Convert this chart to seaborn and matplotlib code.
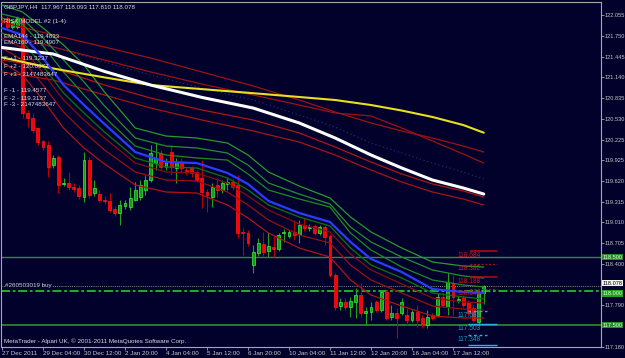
import numpy as np
import pandas as pd
import matplotlib
matplotlib.use("Agg")
import matplotlib.pyplot as plt
import matplotlib.transforms as mtransforms
import seaborn as sns

# ---------------- data ----------------
x_tick_bars = [0, 8, 16, 24, 32, 40, 48, 56, 64, 72, 80, 88]
x_tick_labels = ["27 Dec 2011", "29 Dec 04:00", "30 Dec 12:00", "2 Jan 20:00", "4 Jan 04:00",
                 "5 Jan 12:00", "6 Jan 20:00", "10 Jan 04:00", "11 Jan 12:00", "12 Jan 20:00",
                 "16 Jan 04:00", "17 Jan 12:00"]
y_tick_values = [122.055, 121.750, 121.445, 121.140, 120.835, 120.530, 120.225, 119.925,
                 119.620, 119.315, 119.010, 118.705, 118.400, 117.790, 117.180]

opens = [121.985, 122.015, 121.882, 121.882, 122.015, 120.618, 120.544, 120.397, 120.206, 120.147,
         119.853, 119.971, 119.574, 119.588, 119.529, 119.515, 119.382, 119.926, 119.441, 119.426,
         119.338, 119.324, 119.206, 119.147, 119.250, 119.235, 119.338, 119.382, 119.485, 119.632,
         119.882, 120.029, 119.824, 120.044, 119.809, 119.897, 119.779, 119.809, 119.750, 119.662,
         119.456, 119.382, 119.559, 119.485, 119.574, 119.603, 119.559, 118.868, 118.853, 118.382,
         118.559, 118.691, 118.588, 118.647, 118.618, 118.853, 118.809, 118.868, 118.838, 118.971,
         118.926, 118.956, 118.853, 118.941, 118.809, 118.235, 117.779, 117.838, 117.765, 117.838,
         117.941, 117.676, 117.691, 117.838, 117.721, 117.985, 117.618, 117.676, 117.676, 117.647,
         117.574, 117.691, 117.603, 117.500, 117.647, 117.647, 117.912, 117.765, 118.118, 117.868,
         117.897, 117.824, 117.750, 117.544, 117.967]
highs = [122.044, 122.044, 121.985, 122.044, 122.044, 120.662, 120.618, 120.412, 120.221, 120.206,
         120.000, 120.000, 119.662, 119.750, 119.588, 119.559, 120.044, 119.971, 119.632, 119.485,
         119.397, 119.441, 119.250, 119.338, 119.338, 119.529, 119.603, 119.632, 119.706, 120.147,
         120.191, 120.074, 119.956, 120.147, 119.956, 119.956, 119.824, 119.838, 119.779, 119.926,
         119.500, 119.588, 119.662, 119.632, 119.662, 119.647, 119.706, 118.926, 118.897, 118.676,
         118.779, 118.868, 118.868, 118.824, 118.853, 118.912, 118.897, 119.044, 119.044, 119.074,
         118.985, 118.985, 118.971, 118.971, 118.838, 118.265, 117.897, 117.897, 117.912, 118.044,
         118.118, 117.765, 117.838, 117.868, 118.015, 118.015, 117.794, 117.750, 117.897, 117.750,
         117.721, 117.794, 117.647, 117.721, 117.676, 117.971, 117.971, 118.265, 118.235, 117.926,
         117.941, 117.868, 117.794, 118.015, 118.093]
lows = [121.926, 121.853, 121.853, 121.853, 120.544, 120.412, 120.324, 120.147, 120.074, 119.676,
        119.809, 119.441, 119.544, 119.485, 119.456, 119.353, 119.309, 119.368, 119.397, 119.309,
        119.279, 119.162, 119.103, 118.971, 119.206, 119.191, 119.324, 119.338, 119.412, 119.603,
        119.779, 119.779, 119.779, 119.706, 119.588, 119.750, 119.706, 119.676, 119.603, 119.221,
        119.162, 119.235, 119.382, 119.441, 119.485, 119.485, 118.779, 118.529, 118.662, 118.265,
        118.515, 118.515, 118.500, 118.500, 118.588, 118.721, 118.779, 118.750, 118.706, 118.882,
        118.882, 118.824, 118.824, 118.676, 118.206, 117.721, 117.721, 117.721, 117.618, 117.603,
        117.618, 117.500, 117.574, 117.691, 117.691, 117.574, 117.574, 117.309, 117.647, 117.500,
        117.544, 117.471, 117.456, 117.456, 117.574, 117.618, 117.765, 117.647, 117.647, 117.824,
        117.765, 117.647, 117.544, 117.500, 117.810]
closes = [121.956, 121.882, 121.956, 122.015, 120.618, 120.544, 120.368, 120.191, 120.118, 119.824,
          119.956, 119.559, 119.588, 119.529, 119.500, 119.397, 119.926, 119.412, 119.515, 119.338,
          119.324, 119.191, 119.147, 119.265, 119.294, 119.368, 119.485, 119.559, 119.632, 120.029,
          119.956, 119.824, 119.897, 119.824, 119.897, 119.809, 119.750, 119.735, 119.632, 119.456,
          119.412, 119.529, 119.485, 119.588, 119.603, 119.529, 118.853, 118.853, 118.706, 118.574,
          118.706, 118.574, 118.662, 118.618, 118.824, 118.868, 118.868, 118.824, 118.971, 118.926,
          118.941, 118.853, 118.941, 118.794, 118.235, 117.765, 117.838, 117.765, 117.853, 117.941,
          117.676, 117.706, 117.765, 117.721, 117.985, 117.603, 117.676, 117.603, 117.838, 117.574,
          117.691, 117.574, 117.515, 117.618, 117.603, 117.912, 117.794, 118.132, 117.912, 117.882,
          117.794, 117.676, 117.574, 117.971, 118.078]

# slow moving averages & envelopes (sampled at these bars)
slow_bars = [0, 10, 20, 29, 39, 49, 58, 65, 72, 78, 84, 90, 94]
ema_white = [121.581, 121.485, 121.229, 121.029, 120.847, 120.691, 120.471, 120.250, 120.000, 119.809, 119.632, 119.515, 119.426]
ema_yellow = [121.435, 121.272, 121.141, 121.029, 120.969, 120.909, 120.853, 120.809, 120.735, 120.654, 120.559, 120.441, 120.328]
env_up1 = [121.956, 121.765, 121.588, 121.426, 121.221, 121.015, 120.809, 120.632, 120.471, 120.353, 120.250, 120.132, 120.044]
env_up2 = [121.794, 121.588, 121.397, 121.221, 121.044, 120.882, 120.735, 120.618, 120.574, 120.397, 120.206, 120.015, 119.882]
env_dn1 = [121.397, 121.279, 121.029, 120.838, 120.662, 120.515, 120.324, 120.118, 119.897, 119.721, 119.574, 119.471, 119.382]
env_dn2 = [121.221, 121.103, 120.882, 120.691, 120.515, 120.353, 120.191, 120.000, 119.779, 119.603, 119.456, 119.353, 119.265]
env_mid = [121.691, 121.588, 121.368, 121.176, 120.985, 120.809, 120.588, 120.412, 120.176, 120.029, 119.882, 119.750, 119.647]

# fast moving average & bands
fast_bars = [0, 4, 8, 12, 16, 20, 26, 32, 38, 44, 48, 52, 58, 64, 68, 72, 78, 84, 90, 94]
ema_blue = [121.868, 121.765, 121.426, 121.029, 120.735, 120.456, 120.044, 119.897, 119.882, 119.735,
            119.574, 119.324, 119.147, 119.015, 118.721, 118.471, 118.279, 118.029, 117.985, 117.971]
band_g1 = [122.206, 122.103, 121.868, 121.618, 121.324, 120.926, 120.397, 120.279, 120.250, 120.176,
           120.000, 119.750, 119.544, 119.368, 119.088, 118.868, 118.632, 118.426, 118.368, 118.353]
band_g2 = [122.074, 122.000, 121.721, 121.397, 121.074, 120.721, 120.250, 120.132, 120.103, 120.029,
           119.853, 119.588, 119.426, 119.279, 118.941, 118.721, 118.500, 118.309, 118.221, 118.191]
band_g3 = [122.015, 121.926, 121.603, 121.221, 120.882, 120.559, 120.132, 120.000, 119.956, 119.926,
           119.721, 119.485, 119.353, 119.235, 118.853, 118.603, 118.353, 118.162, 118.088, 118.059]
band_dg = [121.794, 121.662, 121.309, 120.912, 120.618, 120.338, 119.956, 119.824, 119.809, 119.662,
           119.485, 119.265, 119.088, 118.956, 118.632, 118.382, 118.191, 117.971, 117.912, 117.882]
band_r1 = [121.721, 121.574, 121.206, 120.809, 120.515, 120.250, 119.882, 119.750, 119.735, 119.588,
           119.397, 119.191, 118.985, 118.868, 118.544, 118.309, 118.103, 117.897, 117.838, 117.824]
band_r2 = [121.574, 121.397, 121.029, 120.632, 120.338, 120.074, 119.750, 119.632, 119.618, 119.456,
           119.265, 119.044, 118.824, 118.706, 118.382, 118.162, 117.971, 117.779, 117.735, 117.721]
band_r3 = [121.368, 121.176, 120.809, 120.397, 120.103, 119.868, 119.559, 119.456, 119.441, 119.265,
           119.074, 118.853, 118.632, 118.500, 118.162, 117.941, 117.779, 117.632, 117.603, 117.603]

# horizontal levels
level_green_solid = 118.5
level_green_dash = 118.0
level_green_low = 117.5
level_bid = 118.078

red_levels = [118.582, 118.397, 118.210, 118.030]
red_labels = ["118.684", "118.382", "118.188", "118.043"]
cyan_levels = [117.706, 117.515, 117.353, 117.206]
cyan_labels = ["117.686", "117.503", "117.348", ""]

header_lines = ["GBPJPY,H4  117.967 118.093 117.810 118.078", "RISK MODEL #2 (1-4)",
                "EMA144 - 119.4833", "EMA169 - 119.4907",
                "F +1 - 119.3237", "F +2 - 120.0677", "F +3 - 2147483647",
                "F -1 - 119.4577", "F -2 - 119.3137", "F -3 - 2147483647"]

# ---------------- style ----------------
BG = "#01012c"
FG = "#c8c8c8"
sns.set_theme(style="dark", rc={"axes.facecolor": BG, "figure.facecolor": BG,
                                "axes.edgecolor": "#a8a8a8", "axes.grid": False})
plt.rcParams["font.family"] = ["Liberation Sans Narrow", "Liberation Sans", "DejaVu Sans"]
FS = 4.5
YFS = 4.1

W, H = 625, 358
fig = plt.figure(figsize=(W / 100, H / 100), dpi=100, facecolor=BG)
ax = fig.add_axes([1.5 / W, 11 / H, 599.5 / W, 345.5 / H])
ax.set_facecolor(BG)
ax.set_xlim(-0.098, 116.88)
ax.set_ylim(117.1765, 122.2574)
for s in ax.spines.values():
    s.set_color("#a8a8a8")
    s.set_linewidth(0.8)

# horizontal levels
ax.axhline(level_green_solid, color="#2f8f2f", lw=1.0, zorder=1)
ax.axhline(level_green_low, color="#2a7a2a", lw=1.4, zorder=1)
ax.axhline(level_bid, color="#8c8c8c", lw=0.7, ls=(0, (1, 1.2)), zorder=1)
ax.axhline(level_green_dash, color="#22c022", lw=1.3, ls=(0, (5, 1.5, 1.5, 1.5)), zorder=1)

# candles
df = pd.DataFrame({"o": opens, "h": highs, "l": lows, "c": closes})
df["bar"] = np.arange(len(df))
up = df["c"] >= df["o"]
body_lo = np.minimum(df["o"], df["c"])
body_h = np.maximum(np.abs(df["c"] - df["o"]), 0.012)
ax.vlines(df["bar"][up], df["l"][up], df["h"][up], color="#1fa01f", lw=0.8, zorder=3)
ax.vlines(df["bar"][~up], df["l"][~up], df["h"][~up], color="#b80000", lw=0.8, zorder=3)
ax.bar(df["bar"][up], body_h[up], bottom=body_lo[up], width=0.58, color="#12a012",
       edgecolor="#3cf03c", linewidth=0.5, zorder=4)
ax.bar(df["bar"][~up], body_h[~up], bottom=body_lo[~up], width=0.58, color="#ff0000",
       edgecolor="#ff1a1a", linewidth=0.5, zorder=4)

# lines
def line(xs, ys, color, lw, ls="-", z=5):
    sns.lineplot(x=xs, y=ys, ax=ax, color=color, linewidth=lw, linestyle=ls,
                 estimator=None, sort=False, legend=False, zorder=z,
                 solid_joinstyle="round", solid_capstyle="round")

line(slow_bars, env_up1, "#a01212", 0.9)
line(slow_bars, env_up2, "#a01212", 0.9)
line(slow_bars, env_mid, "#2c2c88", 0.8, ls=(0, (1, 2.5)))
line(slow_bars, env_dn2, "#a81414", 0.9)
line(slow_bars, env_dn1, "#b01616", 0.9)
line(slow_bars, ema_yellow, "#e8e020", 1.5, z=6)
line(slow_bars, ema_white, "#ffffff", 2.2, z=6)

line(fast_bars, band_g1, "#2a9a2a", 0.9)
line(fast_bars, band_g2, "#26902a", 0.9)
line(fast_bars, band_g3, "#1f8a1f", 0.9)
line(fast_bars, band_r3, "#b01414", 0.9)
line(fast_bars, band_r2, "#9c1010", 0.9)
line(fast_bars, band_r1, "#8a0c0c", 0.9)
line(fast_bars, band_dg, "#116a11", 1.0)
line(fast_bars, ema_blue, "#2a3cff", 1.6, z=6)

# right-side level markers
red_styles = ["-", (0, (1.5, 1.5)), "-", (0, (1.5, 1.5))]
for lv, lb, st in zip(red_levels, red_labels, red_styles):
    ax.hlines(lv, 91.3, 96.6, color="#b01010", lw=1.1 if st == "-" else 0.9, linestyles=st, zorder=7)
    ax.text(88.8, lv - 0.012, lb, color="#c41c1c", fontsize=FS + 0.3, ha="left", va="top", zorder=8)
cyan_styles = [(0, (2, 2)), "-", (0, (2, 2)), "-"]
cyan_ends = [94.6, 96.6, 94.6, 96.6]
for lv, lb, st, xe in zip(cyan_levels, cyan_labels, cyan_styles, cyan_ends):
    ax.hlines(lv, 91.0, xe, color="#28b4dc", lw=1.0, linestyles=st, zorder=7)
    if lb:
        ax.text(88.8, lv - 0.012, lb, color="#2398b8", fontsize=FS + 0.3, ha="left", va="top", zorder=8)

# order label
ax.text(0.6, level_bid, "#260503019 buy", color="#d8d8d8", fontsize=FS, ha="left", va="center",
        zorder=9, bbox=dict(boxstyle="square,pad=0.05", fc=BG, ec="none"))

# axes ticks
ax.yaxis.tick_right()
ax.set_yticks(y_tick_values)
ax.set_yticklabels([f"{v:.3f}" for v in y_tick_values])
ax.tick_params(axis="y", direction="out", length=2.0, width=0.6, colors="#a8a8a8",
               labelcolor=FG, labelsize=YFS, pad=0.6, right=True, left=False)
ax.set_xticks(x_tick_bars)
ax.set_xticklabels(x_tick_labels)
ax.tick_params(axis="x", direction="out", length=2.0, width=0.6, colors="#a8a8a8",
               labelcolor=FG, labelsize=FS, pad=0.8, bottom=True)
for t in ax.get_xticklabels():
    t.set_ha("left")
ax.set_xlabel("")
ax.set_ylabel("")

# boxed price labels on the axis
trans = mtransforms.blended_transform_factory(ax.transAxes, ax.transData)
box_specs = [(level_green_solid, "#2a8a2a", "#e0ffe0"), (level_bid, "#f4f4f4", "#000000"),
             (level_green_dash, "#22a022", "#e0ffe0"), (level_green_low, "#2a8a2a", "#e0ffe0")]
for lv, fc, tc in box_specs:
    va = "bottom" if lv == level_bid else ("top" if lv == level_green_dash else "center")
    ax.text(1.0 + 1.5 / 599.5, lv, f"{lv:.3f}", transform=trans, ha="left", va=va,
            fontsize=YFS, color=tc, zorder=10, clip_on=False,
            bbox=dict(boxstyle="square,pad=0.1", fc=fc, ec="none"))

# header texts
header_y = [7, 21, 36, 43, 58, 66, 74, 90, 98, 105]
for y, s in zip(header_y, header_lines):
    fig.text(3.5 / W, 1 - y / H, s, color="#dcdcdc", fontsize=FS, ha="left", va="center", zorder=20)
fig.text(3.5 / W, 1 - 341 / H, "MetaTrader - Alpari UK, \u00a9 2001-2011 MetaQuotes Software Corp.",
         color="#dcdcdc", fontsize=FS, ha="left", va="center")

fig.savefig("out.png", dpi=100, facecolor=BG)
